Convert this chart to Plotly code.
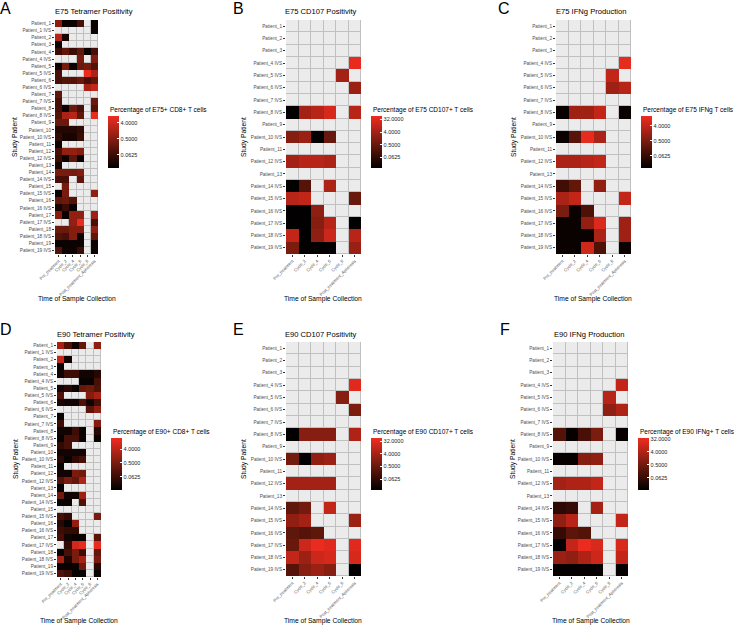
import plotly.graph_objects as go

## DATA ##
# valori letti a occhio, in log2 della percentuale (scala del colore); None = dato mancante
N = None

times = ["Pre_treatment", "Cycle_2", "Cycle_4", "Cycle_6", "Cycle_8", "Post_treatment_Apheresis"]

patients_all = [
    "Patient_1", "Patient_1 IVS", "Patient_2", "Patient_3", "Patient_4", "Patient_4 IVS", "Patient_5",
    "Patient_5 IVS", "Patient_6", "Patient_6 IVS", "Patient_7", "Patient_7 IVS", "Patient_8", "Patient_8 IVS",
    "Patient_9", "Patient_10", "Patient_10 IVS", "Patient_11", "Patient_12", "Patient_12 IVS", "Patient_13",
    "Patient_14", "Patient_14 IVS", "Patient_15", "Patient_15 IVS", "Patient_16", "Patient_16 IVS",
    "Patient_17", "Patient_17 IVS", "Patient_18", "Patient_18 IVS", "Patient_19", "Patient_19 IVS",
]
patients_ivs = [
    "Patient_1", "Patient_2", "Patient_3", "Patient_4 IVS", "Patient_5 IVS", "Patient_6 IVS", "Patient_7 IVS",
    "Patient_8 IVS", "Patient_9", "Patient_10 IVS", "Patient_11", "Patient_12 IVS", "Patient_13",
    "Patient_14 IVS", "Patient_15 IVS", "Patient_16 IVS", "Patient_17 IVS", "Patient_18 IVS", "Patient_19 IVS",
]

e75_tetramer = [
    [-0.8, -6, -6, -3.5, N, -6],
    [N, N, N, N, N, -6],
    [1, -5.5, N, N, N, N],
    [-6, N, N, N, N, N],
    [-4, -2.5, -4, -2.5, -6, -3.5],
    [N, N, N, -1.5, N, -1],
    [-6, -1.5, -6, -2, -1.5, -3],
    [-3.5, N, N, N, 3, 0.5],
    [-3.5, -3, -3, -2, -3.5, -2.5],
    [N, N, N, N, 0.5, 1.5],
    [-2.5, N, N, N, N, N],
    [-3.5, N, N, N, N, -2],
    [-3.5, -6, -2, -3.5, N, -3],
    [-3, 0.5, 1, -2.5, N, 3],
    [-2, -2, N, N, N, N],
    [-5, -5, -5, -4.5, N, N],
    [-4.5, -5.5, -5.5, -4, N, N],
    [-6, N, N, N, N, N],
    [-3.5, -0.5, -0.5, -1, N, N],
    [-4, -6, -2.5, -6, N, N],
    [-5.5, N, N, N, N, N],
    [-1.5, -1.5, -1.5, -1, N, N],
    [-3.5, -3.5, N, -2.5, N, N],
    [N, -1.5, N, N, N, N],
    [-6, -1.5, N, N, N, -0.5],
    [-2.5, -2, -3, N, N, N],
    [-5.5, -4, -6, N, N, N],
    [-1, -6, -0.5, -0.5, N, 0],
    [N, N, -0.5, 3, N, -3.5],
    [-2, -2, -1, -1, N, -0.5],
    [-3, -3.5, -1, -6, N, -2.5],
    [-6, -6, -6, -6, N, -6],
    [-3, -6, -6, -4, N, -6],
]
e75_cd107 = [
    [N, N, N, N, N, N],
    [N, N, N, N, N, N],
    [N, N, N, N, N, N],
    [N, N, N, N, N, 5.5],
    [N, N, N, N, 2, N],
    [N, N, N, N, N, 1.5],
    [N, N, N, N, N, N],
    [-6.5, 2, 3, 4.5, N, 3],
    [N, N, N, N, N, N],
    [0.5, 1.5, -6.5, -1, N, N],
    [N, N, N, N, N, N],
    [2, 3, 3, 2.5, N, N],
    [N, N, N, N, N, N],
    [-6.5, -2, N, 2.5, N, N],
    [3, 3.5, N, N, N, -1],
    [-6.5, -6.5, 1, N, N, N],
    [-6.5, -6.5, 0.5, 3, N, -6.5],
    [3.5, -6.5, 1, 4, N, 3],
    [0, -6.5, -6.5, -6.5, N, 1.5],
]
e75_ifng = [
    [N, N, N, N, N, N],
    [N, N, N, N, N, N],
    [N, N, N, N, N, N],
    [N, N, N, N, N, 3.5],
    [N, N, N, N, 2, N],
    [N, N, N, N, 0.5, 1.5],
    [N, N, N, N, N, N],
    [-6, 0.5, 0.5, 2, N, -6],
    [N, N, N, N, N, N],
    [-6, -2.5, 3.5, 1, N, N],
    [N, N, N, N, N, N],
    [1, 1, 1.5, 2, N, N],
    [N, N, N, N, N, N],
    [-3.5, -2, N, 0, N, N],
    [1, 2, N, N, N, 2],
    [-1, -6, -3, N, N, N],
    [-6, -6, 0, 3, N, 0.5],
    [-6, -6, -6, 1, N, 0.5],
    [-6, -6, 2.5, -3, N, -6],
]
e90_tetramer = [
    [1, -3, -6, -2, N, 0],
    [N, N, N, N, N, N],
    [2.5, -6, N, N, N, N],
    [-6.5, N, N, N, N, N],
    [-6, -4, -4, -6, -6, -5],
    [N, N, N, -6.5, -6.5, -3.5],
    [-6, -5, -6.5, -2, -1.5, -3],
    [-3, N, N, N, -0.5, 1],
    [-5.5, -6, -6, -3, -6, -3.5],
    [N, N, N, N, -2.5, 0],
    [-6.5, N, N, N, N, N],
    [-4, N, N, N, N, -0.5],
    [-6, -6, -4, -6.5, N, -5],
    [-6.5, -3.5, -3.5, -6.5, N, -6.5],
    [-4.5, -3.5, N, N, N, N],
    [-6, -6, -6, -6, N, N],
    [-5, -6.5, -4.5, -3.5, N, N],
    [-6.5, N, N, N, N, N],
    [-6, -6, -1, -1.5, N, N],
    [-3, -1, -2, 1.5, N, N],
    [-6.5, N, N, N, N, N],
    [-1.5, -6, -6, 0.5, N, N],
    [-6.5, -6.5, N, -3, N, N],
    [N, N, N, N, N, N],
    [-3.5, -4.5, N, N, N, -1],
    [-5, -6.5, 0, N, N, N],
    [-4, -4.5, -4.5, N, N, N],
    [-3.5, -6, -6.5, -6.5, N, -2.5],
    [N, -4.5, 3, 4, N, 4.2],
    [-6.5, -3.5, -1, -4, N, -2],
    [1, -5.5, -1, 1, N, -1],
    [-6.5, -6.5, -6.5, -1.5, N, -5],
    [-3, -4, -6.5, -6.5, N, -6.5],
]
e90_cd107 = [
    [N, N, N, N, N, N],
    [N, N, N, N, N, N],
    [N, N, N, N, N, N],
    [N, N, N, N, N, 5],
    [N, N, N, N, 0.5, N],
    [N, N, N, N, N, 0],
    [N, N, N, N, N, N],
    [-6.5, 0.5, 0.5, 0.5, N, 2.5],
    [N, N, N, N, N, N],
    [-0.5, -6.5, 1, 1.5, N, N],
    [N, N, N, N, N, N],
    [2, 2, 2, 2, N, N],
    [N, N, N, N, N, N],
    [-1.5, -0.5, N, 3.5, N, N],
    [1, 2, N, N, N, 1.5],
    [-1.5, -2, -1.5, N, N, N],
    [-1, 4, 5.5, 5, N, 5],
    [3.5, 1.5, 4, 4.5, N, 4.5],
    [-2, 0.5, 1.5, 0.5, N, -6.5],
]
e90_ifng = [
    [N, N, N, N, N, N],
    [N, N, N, N, N, N],
    [N, N, N, N, N, N],
    [N, N, N, N, N, 3],
    [N, N, N, N, 2.5, N],
    [N, N, N, N, 0.5, 2],
    [N, N, N, N, N, N],
    [-2.5, -6.5, -3, -0.5, N, -6.5],
    [N, N, N, N, N, N],
    [-6.5, -6.5, 0, 0.5, N, N],
    [N, N, N, N, N, N],
    [1.5, 2, 2, 3, N, N],
    [N, N, N, N, N, N],
    [-4.5, -4, N, 1.5, N, N],
    [0.5, 2.5, N, N, N, 3],
    [-4, -2, -2.5, N, N, N],
    [-6.5, 3, 5, 4, N, 4],
    [1, 0.5, 2, 3.5, N, 3],
    [-6.5, -6.5, -6.5, -6.5, N, -6.5],
]

ticks_short = [2, -1, -4]
ticks_long = [5, 2, -1, -4]
ticktext_short = ["4.0000", "0.5000", "0.0625"]
ticktext_long = ["32.0000", "4.0000", "0.5000", "0.0625"]

## PARAMS ##
W, H = 734, 627
FONT = "Liberation Sans"
RED_SCALE = [[0, "#000000"], [0.25, "#3a0c05"], [0.5, "#741b0e"], [0.75, "#b22417"], [1, "#f02c20"]]

panels = [
    dict(letter="A", title="E75 Tetramer Positivity", legend="Percentage of E75+ CD8+ T cells",
         z=e75_tetramer, y=patients_all, ticks=ticks_short, text=ticktext_short, zr=(-6.5, 3.25),
         box=(55, 98, 20, 254), t=(94, 12), xt=(77, 299), yt=(15, 137), lg=(108, 110), let=(6, 9)),
    dict(letter="B", title="E75 CD107 Positivity", legend="Percentage of E75 CD107+ T cells",
         z=e75_cd107, y=patients_ivs, ticks=ticks_long, text=ticktext_long, zr=(-6.6, 5.85),
         box=(286, 361, 20, 254), t=(321, 12), xt=(323, 299), yt=(244, 137), lg=(371, 110), let=(239, 9)),
    dict(letter="C", title="E75 IFNg Production", legend="Percentage of E75 IFNg T cells",
         z=e75_ifng, y=patients_ivs, ticks=ticks_short, text=ticktext_short, zr=(-6.4, 3.9),
         box=(556, 631, 20, 254), t=(591.5, 12), xt=(593, 299), yt=(514, 137), lg=(641, 110), let=(504, 9)),
    dict(letter="D", title="E90 Tetramer Positivity", legend="Percentage of E90+ CD8+ T cells",
         z=e90_tetramer, y=patients_all, ticks=ticks_short, text=ticktext_short, zr=(-6.9, 4.4),
         box=(57, 101, 342, 577), t=(96, 334), xt=(79, 621), yt=(16, 459), lg=(111, 432), let=(6, 329)),
    dict(letter="E", title="E90 CD107 Positivity", legend="Percentage of E90 CD107+ T cells",
         z=e90_cd107, y=patients_ivs, ticks=ticks_long, text=ticktext_long, zr=(-6.6, 5.8),
         box=(286, 361, 342, 576), t=(321, 334), xt=(323, 621), yt=(244, 459), lg=(371, 432), let=(239, 329)),
    dict(letter="F", title="E90 IFNg Production", legend="Percentage of E90 IFNg+ T cells",
         z=e90_ifng, y=patients_ivs, ticks=ticks_long, text=ticktext_long, zr=(-6.8, 5.2),
         box=(553, 628, 342, 576), t=(589, 334), xt=(591, 621), yt=(513, 459), lg=(638, 432), let=(505, 329)),
]


## FUNC ##
def note(fig:go.Figure, x:float, y:float, text:str, size:float, xanchor:str="center", angle:float=0, color:str="black"):
    """Testo posizionato in pixel della pagina"""
    fig.add_annotation(
        x=x / W, y=1 - y / H, xref="paper", yref="paper",
        text=text, showarrow=False, textangle=angle,
        font=dict(family=FONT, size=size, color=color),
        xanchor=xanchor, yanchor="middle",
    )


def add_panel(fig:go.Figure, n:int, p:dict):
    x0, x1, y0, y1 = p["box"]
    xname, yname = f"x{n}", f"y{n}"

    # sfondo grigio per le celle senza dato, il bordo si vede solo qui
    fig.add_trace(go.Heatmap(
        x=times, y=p["y"],
        z=[[0 if v is None else N for v in row] for row in p["z"]],
        colorscale=[[0, "#EBEBEB"], [1, "#EBEBEB"]],
        showscale=False, xgap=1, ygap=1, hoverinfo="skip",
        xaxis=xname, yaxis=yname,
    ))
    fig.add_trace(go.Heatmap(
        x=times, y=p["y"], z=p["z"],
        colorscale=RED_SCALE, zmin=p["zr"][0], zmax=p["zr"][1],
        xaxis=xname, yaxis=yname,
        colorbar=dict(
            x=p["lg"][0] / W, xanchor="left",
            y=1 - (p["lg"][1] + 6) / H, yanchor="top",
            len=52, lenmode="pixels", thickness=11, thicknessmode="pixels",
            outlinewidth=0, xpad=0, ypad=0,
            tickmode="array", tickvals=p["ticks"], ticktext=p["text"],
            ticks="inside", ticklen=2, tickcolor="white", tickwidth=0.5,
            tickfont=dict(family=FONT, size=5.5, color="#222222"),
        ),
    ))

    fig.update_layout({
        f"xaxis{n}": dict(
            domain=[x0 / W, x1 / W], anchor=yname, tickangle=-45,
            tickfont=dict(family=FONT, size=4.2, color="#4D4D4D"),
            categoryorder="array", categoryarray=times, tickmode="array", tickvals=times,
            ticks="outside", ticklen=2, tickwidth=0.5, tickcolor="#333333",
            showgrid=False, zeroline=False, showline=False,
        ),
        f"yaxis{n}": dict(
            domain=[1 - y1 / H, 1 - y0 / H], anchor=xname,
            tickfont=dict(family=FONT, size=4.7, color="#4D4D4D"),
            categoryorder="array", categoryarray=p["y"][::-1], tickmode="array", tickvals=p["y"],
            ticks="outside", ticklen=2, tickwidth=0.5, tickcolor="#333333",
            showgrid=False, zeroline=False, showline=False,
        ),
    })

    note(fig, p["let"][0], p["let"][1], p["letter"], 16)
    note(fig, p["t"][0], p["t"][1], p["title"], 7.6)
    note(fig, p["xt"][0], p["xt"][1], "Time of Sample Collection", 6.7)
    note(fig, p["yt"][0], p["yt"][1], "Study Patient", 6.7, angle=-90)
    note(fig, p["lg"][0], p["lg"][1], p["legend"], 6.5, xanchor="left")


## MAIN ##
fig = go.Figure()
for i, panel in enumerate(panels, start=1):
    add_panel(fig, i, panel)

fig.update_layout(
    width=W, height=H, margin=dict(l=0, r=0, t=0, b=0, autoexpand=False),
    plot_bgcolor="#C0C0C0", paper_bgcolor="white",
    font=dict(family=FONT), showlegend=False,
)

fig.write_html(
    "out.html",
    config=dict(displayModeBar=False),
    post_script="document.body.style.margin='0';document.body.style.overflow='hidden';",
)
